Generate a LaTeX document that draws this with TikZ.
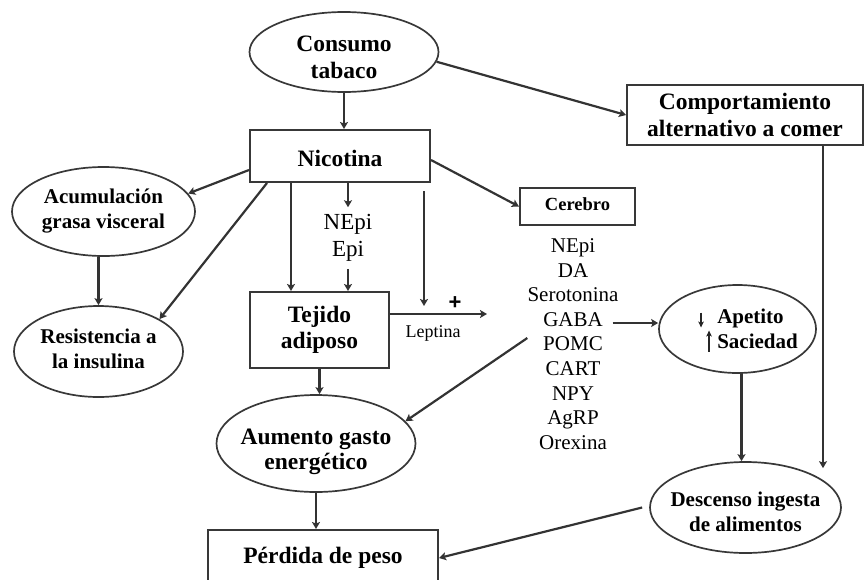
\documentclass[tikz,border=0pt]{standalone}
\usepackage{fontspec}
\setmainfont{Liberation Serif}
\newfontfamily\plusfont{Liberation Sans}
\usetikzlibrary{shapes.geometric,arrows.meta,calc}
% invisible struts used to set the vertical position of node text
\newcommand{\padtop}[1]{\rule{0pt}{#1pt}}
\newcommand{\padbot}[1]{\rule[-#1pt]{0pt}{0pt}}

\begin{document}
\begin{tikzpicture}[x=1pt,y=-1pt,
  oval/.style={ellipse, draw=black!78, line width=1.7pt, inner xsep=-15pt, inner ysep=-10pt, align=center},
  rbox/.style={rectangle, draw=black!78, line width=2pt, inner sep=0pt, align=center},
  big/.style={font=\fontsize{23.5}{26.5}\selectfont\bfseries},
  mid/.style={font=\fontsize{21}{25}\selectfont\bfseries},
  arr/.style={draw=black!80, line width=2.2pt, -{Stealth[length=7pt,width=8pt,inset=1.5pt]}},
  tiny arr/.style={draw=black!85, line width=1.5pt, -{Stealth[length=6pt,width=5.5pt,inset=1.5pt]}},
]
\clip (0,0) rectangle (864,579);

% ---- nodes ----
\node[oval, big, minimum width=189pt, minimum height=80pt] (cons) at (344,52) {\padtop{26}Consumo\\tabaco};
\node[rbox, font=\fontsize{23.5}{27}\selectfont\bfseries, minimum width=236pt, minimum height=60pt] (comp) at (745,115) {Comportamiento\\alternativo a comer};
\node[rbox, big, minimum width=180pt, minimum height=52pt] (nic) at (340,156) {\padtop{22}Nicotina};
\node[oval, mid, minimum width=183pt, minimum height=89pt] (acum) at (103.5,211.5) {Acumulación\\grasa visceral};
\node[oval, mid, minimum width=169pt, minimum height=91pt] (resi) at (98.5,351.5) {Resistencia a\\la insulina\padbot{6}};
\node[rbox, big, minimum width=139pt, minimum height=76pt] (tej) at (319.5,330) {Tejido\\adiposo};
\node[rbox, font=\fontsize{18.5}{22}\selectfont\bfseries, minimum width=115pt, minimum height=37pt] (cer) at (577.5,206.5) {Cerebro\padbot{5.5}};
\node[align=center, inner xsep=0pt, inner ysep=7pt, font=\fontsize{23}{27}\selectfont] (ne) at (348,238) {NEpi\\Epi};
\node[align=center, inner sep=0pt, font=\fontsize{21}{24.6}\selectfont] (list) at (573,344)
  {NEpi\\DA\\Serotonina\\GABA\\POMC\\CART\\NPY\\AgRP\\Orexina};
\node[font=\fontsize{18}{21}\selectfont, inner sep=0pt] (lep) at (433,333) {Leptina};
\node[font=\plusfont\fontsize{22}{24}\selectfont\bfseries, inner sep=0pt] (plus) at (455,303) {+};
\node[oval, minimum width=157pt, minimum height=88pt] (apet) at (737.5,329) {};
\node[mid, align=left, inner sep=0pt] (apettxt) at (757.5,328.5) {Apetito\\Saciedad};
\node[oval, font=\fontsize{23.5}{25}\selectfont\bfseries, minimum width=199pt, minimum height=97pt] (aum) at (316,443.5) {\padtop{33}Aumento gasto\\energético};
\node[oval, mid, minimum width=191pt, minimum height=91pt] (desc) at (745.5,507.5) {\padtop{24}Descenso ingesta\\de alimentos};
\node[rbox, big, minimum width=230pt, minimum height=56pt] (per) at (323,558) {Pérdida de peso};

% ---- connectors ----
\draw[arr] (cons.south) -- (cons.south |- nic.north);
\draw[arr] (cons.-6) -- (comp.west);
\draw[arr] ($(nic.west)+(0,14)$) -- (acum.12);
\draw[arr] ($(nic.south west)+(18,0)$) -- (resi.28);
\draw[arr] (acum.south -| resi.north) -- (resi.north);
\draw[arr] ($(nic.south west)+(42,0)$) -- ($(tej.north west)+(42,0)$);
\draw[arr] (nic.south -| ne.north) -- (ne.north);
\draw[arr] (ne.south) -- (ne.south |- tej.north);
\draw[arr] ($(nic.east)+(0,4)$) -- (cer.west);

% leptin signal
\coordinate (lepTip) at (487,314);
\coordinate (lepTop) at ($(nic.south east)+(-7,8)$);
\draw[arr] (tej.east |- lepTip) -- (lepTip);
\draw[arr] (lepTop) -- ($(lepTop |- lepTip)+(0,-8)$);

\draw[arr] (tej.south) -- (tej.south |- aum.north);
\draw[arr] ($(list.west)+(0,-6)$) -- (aum.14);
\draw[arr] ($(list.east |- apet.west)+(-6,-6)$) -- ($(apet.west)+(0,-6)$);

% down / up marks beside appetite and satiety
\draw[tiny arr] ($(apettxt.west)+(-16,-16)$) -- ($(apettxt.west)+(-16,-1)$);
\draw[tiny arr] ($(apettxt.west)+(-8,23)$) -- ($(apettxt.west)+(-8,2)$);

\coordinate (a1) at ($(apet.south)+(4,0)$);
\draw[arr] (a1) -- (a1 |- desc.north);
\coordinate (c1) at ($(comp.south west)+(197,0)$);
\draw[arr] (c1) -- ($(c1 |- desc.north)+(0,7)$);
\draw[arr] ($(desc.west)+(-7,0)$) -- (per.east);
\draw[arr] (aum.south) -- (aum.south |- per.north);
\end{tikzpicture}
\end{document}
